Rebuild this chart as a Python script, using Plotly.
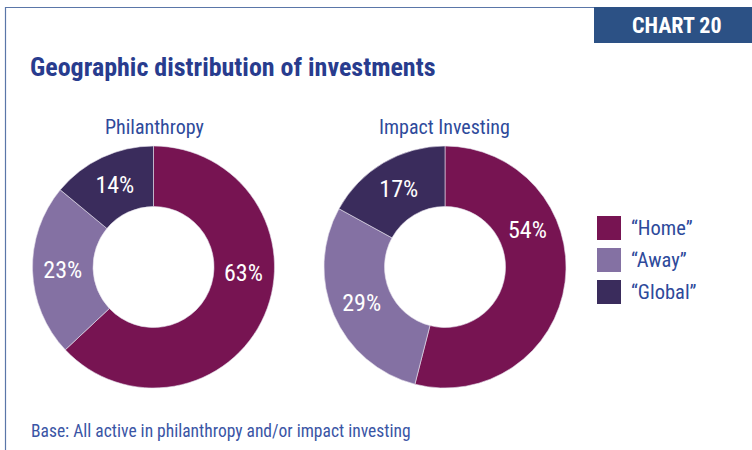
import math
import plotly.graph_objects as go

categories = ["\u201cHome\u201d", "\u201cAway\u201d", "\u201cGlobal\u201d"]
philanthropy = [63, 23, 14]
impact_investing = [54, 29, 17]
panel_titles = ["Philanthropy", "Impact Investing"]
colors = ["#771452", "#8471A3", "#3A2C5C"]

FONT = "Roboto Condensed, Liberation Sans Narrow, sans-serif"
BLUE = "#2E4A9B"

W, H = 752, 450
R = 121
centers = [(153.5, 267), (445, 267)]
home_label_angle = [94, 66]   # degrees clockwise from 12 o'clock
label_radius = 90

def dom(cx, cy, r):
    return dict(x=[(cx - r) / W, (cx + r) / W], y=[(H - cy - r) / H, (H - cy + r) / H])

fig = go.Figure()
annotations = []
for vals, (cx, cy), ang in zip([philanthropy, impact_investing], centers, home_label_angle):
    texts = [""] + [f"{v}%" for v in vals[1:]]
    fig.add_trace(go.Pie(
        labels=categories, values=vals, hole=0.5, sort=False,
        direction="clockwise", rotation=0,
        marker=dict(colors=colors, line=dict(color="#E6E0EC", width=0.6)),
        text=texts, texttemplate="%{text}", textposition="inside",
        insidetextorientation="horizontal",
        textfont=dict(family=FONT, size=24, color="white"),
        domain=dom(cx, cy, R), showlegend=False, hoverinfo="label+value",
    ))
    a = math.radians(ang)
    lx = cx + label_radius * math.sin(a)
    ly = cy - label_radius * math.cos(a)
    annotations.append(dict(text=f"{vals[0]}%", x=lx / W, y=1 - ly / H, xref="paper", yref="paper",
                            showarrow=False, xanchor="center", yanchor="middle",
                            font=dict(family=FONT, size=24, color="white")))

shapes = [
    dict(type="line", xref="paper", yref="paper", x0=5 / W, x1=594 / W, y0=1 - 7.5 / H, y1=1 - 7.5 / H,
         line=dict(color="#5A76A8", width=1.2)),
    dict(type="line", xref="paper", yref="paper", x0=5.5 / W, x1=5.5 / W, y0=0, y1=1 - 7 / H,
         line=dict(color="#5A76A8", width=1.2)),
    dict(type="rect", xref="paper", yref="paper", x0=594 / W, x1=1, y0=1 - 43 / H, y1=1 - 7 / H,
         fillcolor="#2C5185", line=dict(width=0)),
]
annotations += [
    dict(text="<b>CHART 20</b>", x=677 / W, y=1 - 25.5 / H, xref="paper", yref="paper",
         showarrow=False, font=dict(family=FONT, size=22, color="white"), xanchor="center", yanchor="middle"),
    dict(text="<b>Geographic distribution of investments</b>", x=28 / W, y=1 - 67 / H, xref="paper", yref="paper",
         showarrow=False, font=dict(family=FONT, size=26, color="#283C8E"), xanchor="left", yanchor="middle"),
    dict(text="Base: All active in philanthropy and/or impact investing", x=29 / W, y=1 - 431 / H,
         xref="paper", yref="paper", showarrow=False, font=dict(family=FONT, size=17.5, color="#3A55A5"),
         xanchor="left", yanchor="middle"),
]
for t, cx in zip(panel_titles, [154, 444]):
    annotations.append(dict(text=t, x=cx / W, y=1 - 127 / H, xref="paper", yref="paper", showarrow=False,
                            font=dict(family=FONT, size=20, color=BLUE), xanchor="center", yanchor="middle"))

for i, (cat, col) in enumerate(zip(categories, colors)):
    yc = 228 + i * 32
    shapes.append(dict(type="rect", xref="paper", yref="paper", x0=597 / W, x1=621 / W,
                       y0=1 - (yc + 12) / H, y1=1 - (yc - 12) / H, fillcolor=col, line=dict(width=0)))
    annotations.append(dict(text=cat, x=629 / W, y=1 - yc / H, xref="paper", yref="paper", showarrow=False,
                            font=dict(family=FONT, size=20.5, color=BLUE), xanchor="left", yanchor="middle"))

fig.update_layout(width=W, height=H, margin=dict(l=0, r=0, t=0, b=0),
                  paper_bgcolor="white", plot_bgcolor="white",
                  shapes=shapes, annotations=annotations)
fig.write_html("out.html", config={"displayModeBar": False},
               post_script="document.body.style.margin='0';document.body.style.overflow='hidden';")
